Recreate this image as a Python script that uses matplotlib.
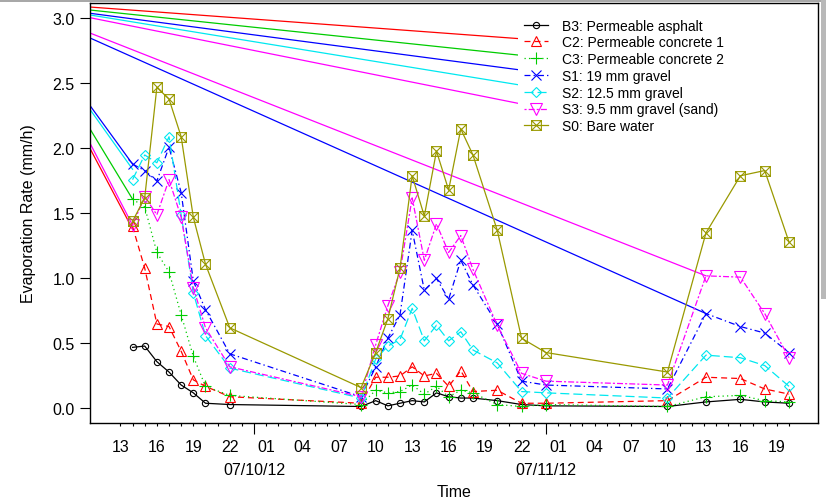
import numpy as np
import pandas as pd
import matplotlib
matplotlib.use("Agg")
import matplotlib.pyplot as plt
from matplotlib.path import Path
from matplotlib.patches import Rectangle

plt.rcParams['font.family'] = ['Liberation Sans', 'DejaVu Sans']
plt.rcParams['lines.scale_dashes'] = False

# ---------------- data ----------------
origin = pd.Timestamp("2012-07-10 00:00")
times = ["2012-07-09 14:00", "2012-07-09 15:00", "2012-07-09 16:00", "2012-07-09 17:00",
         "2012-07-09 18:00", "2012-07-09 19:00", "2012-07-09 20:00", "2012-07-09 22:00",
         "2012-07-10 08:48", "2012-07-10 10:00", "2012-07-10 11:00", "2012-07-10 12:00",
         "2012-07-10 13:00", "2012-07-10 14:00", "2012-07-10 15:00", "2012-07-10 16:00",
         "2012-07-10 17:00", "2012-07-10 18:00", "2012-07-10 20:00", "2012-07-10 22:00",
         "2012-07-11 00:00",
         "2012-07-11 10:00", "2012-07-11 13:10", "2012-07-11 16:00", "2012-07-11 18:00",
         "2012-07-11 20:00"]

B3 = [0.47, 0.48, 0.36, 0.28, 0.18, 0.12, 0.04, 0.03,
      0.015, 0.06, 0.02, 0.04, 0.06, 0.05, 0.12, 0.09, 0.08, 0.08, 0.06, 0.03, 0.02,
      0.015, 0.05, 0.07, 0.05, 0.04]
C2 = [1.40, 1.08, 0.65, 0.63, 0.44, 0.22, 0.17, 0.09,
      0.04, 0.24, 0.24, 0.25, 0.32, 0.25, 0.27, 0.17, 0.29, 0.13, 0.14, 0.04, 0.04,
      0.06, 0.24, 0.23, 0.15, 0.11]
C3 = [1.61, 1.55, 1.20, 1.05, 0.72, 0.40, 0.17, 0.10,
      0.03, 0.14, 0.12, 0.13, 0.18, 0.11, 0.17, 0.09, 0.14, 0.12, 0.03, 0.015, 0.03,
      0.015, 0.09, 0.10, 0.06, 0.05]
S1 = [1.88, 1.83, 1.75, 2.01, 1.66, 0.98, 0.76, 0.42,
      0.09, 0.32, 0.54, 0.72, 1.37, 0.91, 1.00, 0.84, 1.14, 0.95, 0.65, 0.21, 0.18,
      0.15, 0.73, 0.63, 0.58, 0.43]
S2 = [1.76, 1.95, 1.89, 2.09, 1.49, 0.89, 0.56, 0.31,
      0.08, 0.38, 0.48, 0.53, 0.77, 0.52, 0.64, 0.52, 0.59, 0.45, 0.35, 0.13, 0.12,
      0.08, 0.41, 0.39, 0.33, 0.17]
S3 = [1.41, 1.63, 1.49, 1.76, 1.47, 0.93, 0.62, 0.32,
      0.09, 0.49, 0.79, 1.05, 1.62, 1.14, 1.42, 1.20, 1.33, 1.07, 0.64, 0.27, 0.21,
      0.18, 1.02, 1.01, 0.73, 0.39]
S0 = [1.44, 1.62, 2.47, 2.38, 2.09, 1.47, 1.11, 0.62,
      0.16, 0.43, 0.69, 1.08, 1.79, 1.48, 1.98, 1.68, 2.15, 1.95, 1.37, 0.54, 0.43,
      0.28, 1.35, 1.79, 1.83, 1.28]

labels = ["B3: Permeable asphalt", "C2: Permeable concrete 1", "C3: Permeable concrete 2",
          "S1: 19 mm gravel", "S2: 12.5 mm gravel", "S3: 9.5 mm gravel (sand)", "S0: Bare water"]

# stray solid segments visible in the original (start at left plot limit)
x_start = "2012-07-09 10:30"
x_end = "2012-07-11 22:23"
steep_end_time = "2012-07-09 14:00"
steep_start = {"C2": 2.00, "C3": 2.15, "S1": 2.33, "S2": 2.30, "S3": 2.04}
steep_end = {"C2": 1.38, "C3": 1.61, "S1": 1.88, "S2": 1.84, "S3": 1.41}
top_end_time = "2012-07-11 04:18"
top_start = {"C2": 3.088, "C3": 3.065, "S1": 3.04, "S2": 3.027, "S3": 3.006}
top_end = {"C2": 2.80, "C3": 2.654, "S1": 2.525, "S2": 2.39, "S3": 2.224}
mid_end_time = "2012-07-11 13:10"
mid_start = {"S1": 2.85, "S3": 2.888}
mid_end = {"S1": 0.73, "S3": 1.02}

hour_labels = ["13", "16", "19", "22", "01", "04", "07", "10", "13", "16", "19", "22",
               "01", "04", "07", "10", "13", "16", "19"]
hour_label_start = "2012-07-09 13:00"
tick_first = "2012-07-09 13:00"
tick_last = "2012-07-11 20:00"
date_labels = ["07/10/12", "07/11/12"]
date_ticks = ["2012-07-10 00:00", "2012-07-11 00:00"]
yticks = [0.0, 0.5, 1.0, 1.5, 2.0, 2.5, 3.0]


def hrs(t):
    return (pd.to_datetime(t) - origin) / pd.Timedelta(hours=1)


h = np.asarray(hrs(times), dtype=float)

# ---------------- styles ----------------
box_x = Path([(-1, -1), (1, -1), (1, 1), (-1, 1), (-1, -1), (-1, -1), (1, 1), (-1, 1), (1, -1)],
             [Path.MOVETO, Path.LINETO, Path.LINETO, Path.LINETO, Path.CLOSEPOLY,
              Path.MOVETO, Path.LINETO, Path.MOVETO, Path.LINETO])

series = [
    ("B3", B3, 'black', '-', 'o', 4.5),
    ("C2", C2, '#FF0000', (0, (4.3, 2.9)), '^', 7.5),
    ("C3", C3, '#00CC00', (0, (0.9, 2.3)), '+', 8.0),
    ("S1", S1, '#0000FF', (0, (4.3, 2.2, 1.0, 2.2)), 'x', 6.5),
    ("S2", S2, '#00E8F0', (0, (6.5, 2.9)), 'D', 5.5),
    ("S3", S3, '#FF00FF', (0, (1.5, 1.5, 4.3, 1.5)), 'v', 8.0),
    ("S0", S0, '#999900', '-', box_x, 7.0),
]
colors = {s[0]: s[2] for s in series}

fig = plt.figure(figsize=(8.26, 5.02), dpi=100)
ax = fig.add_axes([90 / 826, 1 - 424 / 502, (818 - 90) / 826, (424 - 4) / 502])

xl0, xl1 = hrs(x_start), hrs(x_end)

# stray solid lines
for k in steep_start:
    ax.plot([xl0, hrs(steep_end_time)], [steep_start[k], steep_end[k]], color=colors[k], lw=0.9, zorder=1)
for k in top_start:
    ax.plot([xl0, hrs(top_end_time)], [top_start[k], top_end[k]], color=colors[k], lw=0.9, zorder=1)
for k in mid_start:
    ax.plot([xl0, hrs(mid_end_time)], [mid_start[k], mid_end[k]], color=colors[k], lw=0.9, zorder=1)

handles = []
for (name, vals, col, ls, mk, ms), lab in zip(series, labels):
    ln, = ax.plot(h, vals, color=col, linestyle=ls, lw=0.9, marker=mk, markersize=ms,
                  markerfacecolor='none', markeredgecolor=col, markeredgewidth=0.8,
                  label=lab, zorder=2)
    handles.append(ln)

ax.set_xlim(xl0, xl1)
ax.set_ylim(-0.112, 3.119)

# y axis
ax.set_yticks(yticks)
ax.set_yticklabels([f"{v:.1f}" for v in yticks])
ax.tick_params(axis='y', length=7, width=0.8, labelsize=11.5, pad=4, direction='out')

# x axis
minor_pos = np.arange(hrs(tick_first), hrs(tick_last) + 0.5, 1.0)
lab_pos = hrs(hour_label_start) + 3.0 * np.arange(len(hour_labels))
minor_labels = []
for p in minor_pos:
    idx = np.where(np.isclose(lab_pos, p))[0]
    minor_labels.append(hour_labels[idx[0]] if len(idx) else "")
ax.set_xticks(minor_pos, minor=True)
ax.set_xticklabels(minor_labels, minor=True)
ax.set_xticks(np.asarray(hrs(date_ticks), dtype=float))
ax.set_xticklabels(date_labels)
ax.tick_params(axis='x', which='minor', length=2.5, width=0.8, labelsize=11.5, pad=9)
ax.tick_params(axis='x', which='major', length=8, width=0.8, labelsize=11.5, pad=20)

for sp in ax.spines.values():
    sp.set_linewidth(1.0)

ax.set_xlabel("Time", fontsize=11.5, labelpad=5)
ax.set_ylabel("Evaporation Rate (mm/h)", fontsize=11.5, labelpad=12)

leg = ax.legend(handles=handles, loc='upper left', bbox_to_anchor=(518 / 826, 1 - 14 / 502),
                bbox_transform=fig.transFigure, borderaxespad=0, frameon=True,
                fontsize=10, handlelength=1.75, handletextpad=1.0, labelspacing=0.2,
                borderpad=0.4, fancybox=False)
leg.get_frame().set_facecolor('white')
leg.get_frame().set_edgecolor('none')
leg.get_frame().set_alpha(1.0)

# grey screenshot border
fig.patches.append(Rectangle((0, 1 - 3 / 502), 1, 3 / 502, transform=fig.transFigure,
                             facecolor='#a8a8a8', edgecolor='none'))
fig.patches.append(Rectangle((821 / 826, 1 - 300 / 502), 5 / 826, 300 / 502, transform=fig.transFigure,
                             facecolor='#b8b8b8', edgecolor='none'))

fig.savefig("out.png", dpi=100)
